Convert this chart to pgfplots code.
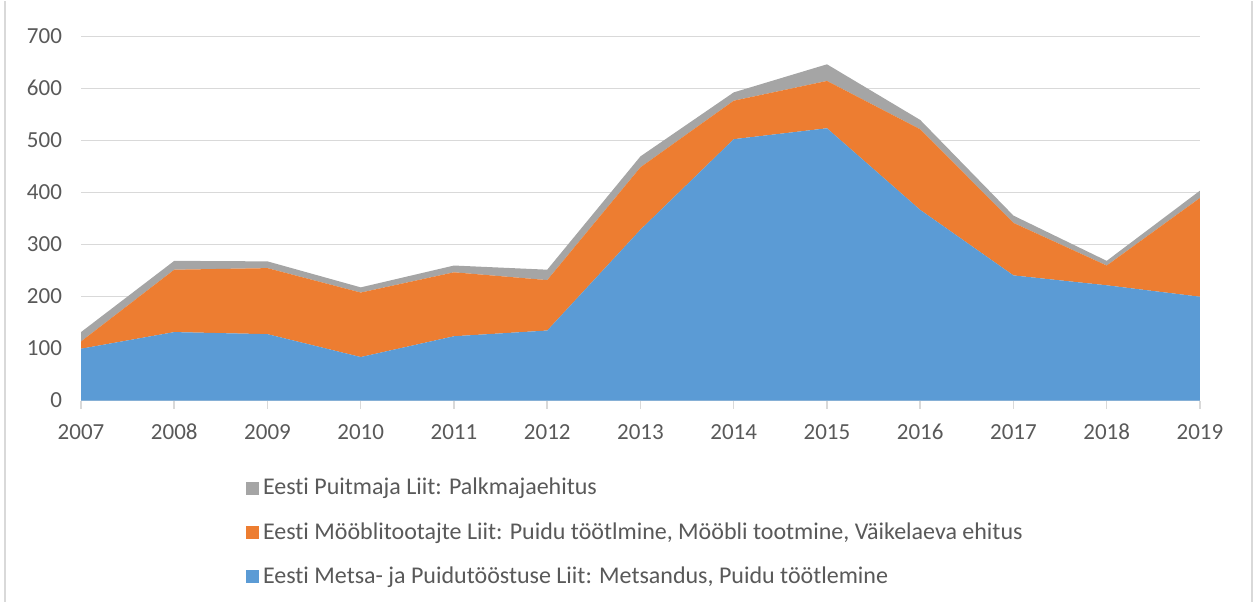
\documentclass[border=0pt]{standalone}
\usepackage{pgfplots}
\pgfplotsset{compat=1.18}
\usepackage{fontspec}
\setmainfont{Carlito}[Ligatures=NoCommon]
\definecolor{cblue}{HTML}{5B9BD5}
\definecolor{corange}{HTML}{ED7D31}
\definecolor{cgray}{HTML}{A5A5A5}
\definecolor{ctext}{HTML}{595959}
\definecolor{cgrid}{HTML}{D9D9D9}
\begin{document}
\begin{tikzpicture}
\begin{axis}[
  width=559.5pt, height=182pt, scale only axis,
  xmin=2007, xmax=2019, ymin=0, ymax=700,
  xtick={2007,2008,...,2019}, ytick={0,100,...,700},
  /pgf/number format/1000 sep={},
  /pgf/number format/assume math mode=true,
  axis lines*=left,
  y axis line style={draw=none},
  x axis line style={draw=cgrid, line width=0.75pt},
  ytick style={draw=none},
  xtick style={draw=cgrid, line width=0.75pt},
  xtick align=outside, major tick length=4pt,
  ymajorgrids, grid style={cgrid, line width=0.75pt},
  tick label style={font=\fontsize{11.5pt}{13pt}\selectfont, text=ctext,
    text height=8pt, text depth=1pt},
  xticklabel style={yshift=-4pt},
  yticklabel style={xshift=-6pt},
  stack plots=y, clip=false,
  area legend,
  reverse legend,
  legend cell align=left,
  legend style={at={(rel axis cs:0.142,-0.19)}, anchor=north west, draw=none,
    font=\fontsize{12pt}{14pt}\selectfont, text=ctext, row sep=8.3pt,
    /tikz/every even column/.append style={column sep=0pt}},
  legend image code/.code={\fill[#1] (0pt,-3.2pt) rectangle (6.4pt,3.2pt);},
]
\addplot[fill=cblue, draw=none] coordinates {
(2007,100) (2008,132) (2009,128) (2010,84) (2011,124) (2012,135) (2013,329)
(2014,503) (2015,524) (2016,367) (2017,241) (2018,222) (2019,200)} \closedcycle;
\addlegendentry{Eesti Metsa- ja Puidutööstuse Liit: Metsandus, Puidu töötlemine}
\addplot[fill=corange, draw=none] coordinates {
(2007,14) (2008,120) (2009,127) (2010,124) (2011,123) (2012,97) (2013,120)
(2014,74) (2015,91) (2016,155) (2017,101) (2018,38) (2019,190)} \closedcycle;
\addlegendentry{Eesti Mööblitootajte Liit: Puidu töötlmine, Mööbli tootmine, Väikelaeva ehitus}
\addplot[fill=cgray, draw=none] coordinates {
(2007,18) (2008,17) (2009,13) (2010,10) (2011,13) (2012,20) (2013,21)
(2014,16) (2015,32) (2016,18) (2017,14) (2018,9) (2019,14)} \closedcycle;
\addlegendentry{Eesti Puitmaja Liit: Palkmajaehitus}
\draw[cgrid, line width=0.75pt] (rel axis cs:-0.0679,-0.5522) -- (rel axis cs:-0.0679,1.0989);
\draw[cgrid, line width=0.75pt] (rel axis cs:1.0465,-0.5522) -- (rel axis cs:1.0465,1.0989);
\path (rel axis cs:-0.0724,-0.5522) rectangle (rel axis cs:1.0483,1.0989);
\end{axis}
\end{tikzpicture}
\end{document}
